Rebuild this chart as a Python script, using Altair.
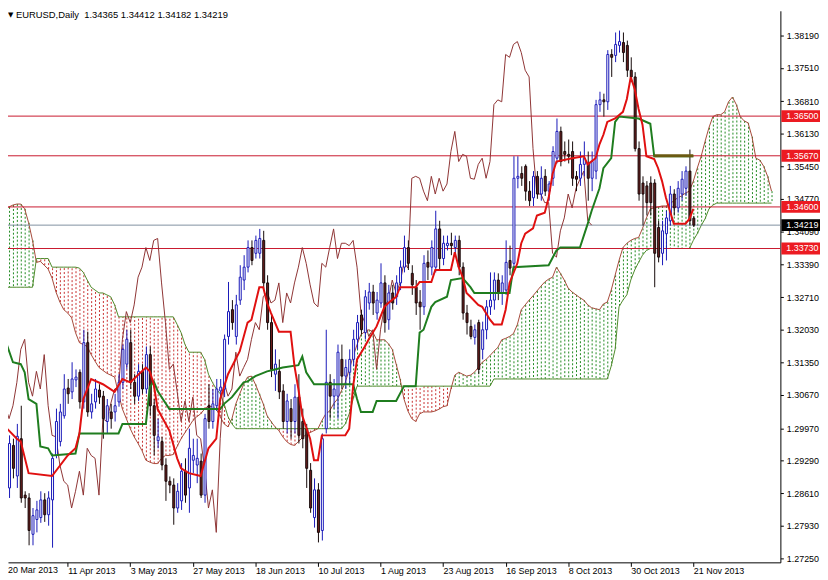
import altair as alt
import pandas as pd

FONT = "Liberation Sans"

# ---------------- values ----------------
title_text = "EURUSD,Daily\u00a0 1.34365 1.34412 1.34182 1.34219"
date_labels = ["20 Mar 2013", "11 Apr 2013", "3 May 2013", "27 May 2013", "18 Jun 2013",
               "10 Jul 2013", "1 Aug 2013", "23 Aug 2013", "16 Sep 2013", "8 Oct 2013",
               "30 Oct 2013", "21 Nov 2013"]
label_bars = [0, 16, 32, 48, 64, 80, 96, 112, 128, 144, 160, 176]
y_ticks = [1.2725, 1.2793, 1.2861, 1.2929, 1.2997, 1.3067, 1.3135, 1.3203, 1.3271,
           1.3339, 1.3409, 1.3477, 1.3545, 1.3613, 1.3681, 1.3751, 1.3819]
levels = [1.3650, 1.3567, 1.3460, 1.3373]
level_text = ["1.36500", "1.35670", "1.34600", "1.33730"]
last_price = 1.34219
last_text = "1.34219"
box_level = 1.3567
box_from, box_to = 166, 176

opens = [
    1.2975, 1.2872, 1.2961, 1.2897, 1.2975, 1.2857, 1.2851, 1.2775, 1.2806, 1.2810,
    1.2847, 1.2816, 1.2847, 1.2940, 1.2969, 1.3023, 1.3081, 1.3073, 1.3098, 1.3114,
    1.3052, 1.3176, 1.3031, 1.3052, 1.3077, 1.3064, 1.3011, 1.3031, 1.3031, 1.3052,
    1.3093, 1.3131, 1.3176, 1.3093, 1.3064, 1.3116, 1.3079, 1.3151, 1.3044, 1.2971,
    1.2969, 1.2920, 1.2886, 1.2878, 1.2830, 1.2845, 1.2907, 1.2872, 1.2930, 1.2920,
    1.2928, 1.2857, 1.3044, 1.3011, 1.3044, 1.3075, 1.3079, 1.3189, 1.3245, 1.3189,
    1.3265, 1.3307, 1.3334, 1.3375, 1.3363, 1.3363, 1.3390, 1.3301, 1.3218, 1.3110,
    1.3116, 1.3075, 1.3011, 1.3038, 1.3011, 1.3062, 1.3011, 1.2996, 1.2909, 1.2810,
    1.2868, 1.2783, 1.2996, 1.3093, 1.3064, 1.3064, 1.3141, 1.3106, 1.3114, 1.3141,
    1.3183, 1.3234, 1.3197, 1.3259, 1.3282, 1.3238, 1.3259, 1.3301, 1.3224, 1.3280,
    1.3272, 1.3301, 1.3334, 1.3375, 1.3321, 1.3292, 1.3261, 1.3251, 1.3344, 1.3334,
    1.3334, 1.3414, 1.3352, 1.3379, 1.3384, 1.3375, 1.3390, 1.3334, 1.3238, 1.3210,
    1.3187, 1.3218, 1.3162, 1.3203, 1.3251, 1.3265, 1.3307, 1.3280, 1.3286, 1.3348,
    1.3342, 1.3520, 1.3530, 1.3545, 1.3493, 1.3479, 1.3524, 1.3487, 1.3524, 1.3493,
    1.3520, 1.3562, 1.3618, 1.3576, 1.3570, 1.3576, 1.3524, 1.3520, 1.3549, 1.3551,
    1.3520, 1.3535, 1.3674, 1.3684, 1.3680, 1.3779, 1.3777, 1.3798, 1.3804, 1.3798,
    1.3746, 1.3732, 1.3582, 1.3510, 1.3504, 1.3510, 1.3510, 1.3417, 1.3363, 1.3404,
    1.3431, 1.3487, 1.3458, 1.3487, 1.3499, 1.3535, 1.34365]
highs = [
    1.2986, 1.2982, 1.2975, 1.3006, 1.3044, 1.2865, 1.2861, 1.2830, 1.2845, 1.2865,
    1.2861, 1.2865, 1.2944, 1.3038, 1.3048, 1.3110, 1.3100, 1.3135, 1.3120, 1.3120,
    1.3203, 1.3199, 1.3069, 1.3100, 1.3089, 1.3075, 1.3058, 1.3048, 1.3069, 1.3110,
    1.3172, 1.3203, 1.3203, 1.3110, 1.3131, 1.3131, 1.3168, 1.3168, 1.3058, 1.3017,
    1.2979, 1.2934, 1.2896, 1.2892, 1.2882, 1.2924, 1.2934, 1.2996, 1.2975, 1.2975,
    1.2944, 1.3027, 1.3089, 1.3079, 1.3100, 1.3100, 1.3193, 1.3303, 1.3265, 1.3276,
    1.3338, 1.3359, 1.3390, 1.3390, 1.3400, 1.3414, 1.3410, 1.3317, 1.3234, 1.3162,
    1.3141, 1.3089, 1.3069, 1.3058, 1.3089, 1.3110, 1.3038, 1.3006, 1.2924, 1.2892,
    1.2882, 1.2986, 1.3203, 1.3110, 1.3100, 1.3172, 1.3172, 1.3141, 1.3162, 1.3203,
    1.3234, 1.3245, 1.3286, 1.3301, 1.3297, 1.3282, 1.3342, 1.3317, 1.3297, 1.3297,
    1.3317, 1.3348, 1.3400, 1.3390, 1.3338, 1.3307, 1.3286, 1.3359, 1.3369, 1.3390,
    1.3452, 1.3431, 1.3400, 1.3400, 1.3406, 1.3400, 1.3400, 1.3344, 1.3255, 1.3224,
    1.3214, 1.3224, 1.3220, 1.3265, 1.3323, 1.3323, 1.3321, 1.3317, 1.3390, 1.3379,
    1.3566, 1.3566, 1.3545, 1.3549, 1.3514, 1.3535, 1.3535, 1.3545, 1.3539, 1.3514,
    1.3587, 1.3645, 1.3628, 1.3597, 1.3601, 1.3597, 1.3535, 1.3576, 1.3597, 1.3576,
    1.3576, 1.3684, 1.3701, 1.3697, 1.3788, 1.3790, 1.3825, 1.3829, 1.3825, 1.3808,
    1.3773, 1.3742, 1.3597, 1.3524, 1.3514, 1.3524, 1.3518, 1.3431, 1.3431, 1.3452,
    1.3504, 1.3497, 1.3514, 1.3535, 1.3545, 1.3580, 1.34412]
lows = [
    1.2934, 1.2851, 1.2892, 1.2872, 1.2841, 1.2830, 1.2752, 1.2752, 1.2779, 1.2799,
    1.2801, 1.2793, 1.2747, 1.2934, 1.2959, 1.3017, 1.3048, 1.3058, 1.3083, 1.3038,
    1.3038, 1.3021, 1.3017, 1.3038, 1.3048, 1.2975, 1.2986, 1.2996, 1.3011, 1.3042,
    1.3079, 1.3120, 1.3079, 1.3048, 1.3054, 1.3069, 1.3069, 1.3023, 1.2940, 1.2955,
    1.2909, 1.2845, 1.2861, 1.2795, 1.2820, 1.2826, 1.2841, 1.2820, 1.2903, 1.2882,
    1.2851, 1.2841, 1.2996, 1.2996, 1.3033, 1.3058, 1.3062, 1.3172, 1.3203, 1.3172,
    1.3255, 1.3286, 1.3323, 1.3338, 1.3352, 1.3352, 1.3286, 1.3203, 1.3104, 1.3075,
    1.3058, 1.2996, 1.2986, 1.2975, 1.2986, 1.2965, 1.2955, 1.2872, 1.2820, 1.2789,
    1.2758, 1.2762, 1.2986, 1.3017, 1.3038, 1.3017, 1.3079, 1.3079, 1.3089, 1.3127,
    1.3162, 1.3193, 1.3183, 1.3245, 1.3234, 1.3224, 1.3249, 1.3197, 1.3203, 1.3245,
    1.3255, 1.3286, 1.3323, 1.3328, 1.3276, 1.3234, 1.3203, 1.3234, 1.3307, 1.3317,
    1.3323, 1.3328, 1.3338, 1.3369, 1.3359, 1.3359, 1.3317, 1.3224, 1.3193, 1.3183,
    1.3172, 1.3110, 1.3141, 1.3183, 1.3234, 1.3245, 1.3265, 1.3255, 1.3276, 1.3317,
    1.3332, 1.3499, 1.3504, 1.3473, 1.3462, 1.3462, 1.3477, 1.3473, 1.3483, 1.3473,
    1.3504, 1.3551, 1.3545, 1.3555, 1.3551, 1.3504, 1.3493, 1.3504, 1.3524, 1.3473,
    1.3493, 1.3518, 1.3659, 1.3649, 1.3663, 1.3732, 1.3763, 1.3783, 1.3763, 1.3732,
    1.3721, 1.3576, 1.3473, 1.3421, 1.3442, 1.3442, 1.3292, 1.3344, 1.3338, 1.3348,
    1.3421, 1.3442, 1.3448, 1.3473, 1.3483, 1.3421, 1.34182]
closes = [
    1.2944, 1.2965, 1.2913, 1.2980, 1.2851, 1.2851, 1.2783, 1.2814, 1.2826, 1.2847,
    1.2816, 1.2851, 1.2934, 1.3011, 1.3031, 1.3079, 1.3069, 1.3100, 1.3104, 1.3052,
    1.3176, 1.3031, 1.3048, 1.3079, 1.3062, 1.3017, 1.3044, 1.3017, 1.3044, 1.3093,
    1.3162, 1.3183, 1.3093, 1.3064, 1.3116, 1.3079, 1.3151, 1.3044, 1.2982, 1.2979,
    1.2920, 1.2886, 1.2878, 1.2830, 1.2865, 1.2907, 1.2857, 1.2955, 1.2940, 1.2934,
    1.2857, 1.3017, 1.3011, 1.3048, 1.3079, 1.3083, 1.3183, 1.3241, 1.3218, 1.3255,
    1.3313, 1.3334, 1.3375, 1.3348, 1.3390, 1.3394, 1.3301, 1.3218, 1.3120, 1.3131,
    1.3073, 1.3011, 1.3054, 1.3011, 1.3062, 1.2982, 1.2975, 1.2913, 1.2830, 1.2868,
    1.2779, 1.2975, 1.3093, 1.3064, 1.3079, 1.3156, 1.3106, 1.3124, 1.3141, 1.3183,
    1.3218, 1.3203, 1.3272, 1.3282, 1.3259, 1.3265, 1.3301, 1.3218, 1.3280, 1.3259,
    1.3301, 1.3334, 1.3375, 1.3342, 1.3297, 1.3259, 1.3251, 1.3342, 1.3334, 1.3375,
    1.3414, 1.3352, 1.3384, 1.3384, 1.3379, 1.3390, 1.3334, 1.3238, 1.3218, 1.3189,
    1.3203, 1.3120, 1.3203, 1.3251, 1.3265, 1.3307, 1.3280, 1.3301, 1.3344, 1.3332,
    1.3520, 1.3524, 1.3520, 1.3493, 1.3473, 1.3524, 1.3487, 1.3520, 1.3493, 1.3508,
    1.3576, 1.3618, 1.3555, 1.3570, 1.3566, 1.3520, 1.3518, 1.3549, 1.3562, 1.3520,
    1.3555, 1.3674, 1.3684, 1.3680, 1.3779, 1.3773, 1.3800, 1.3806, 1.3783, 1.3746,
    1.3732, 1.3582, 1.3487, 1.3487, 1.3469, 1.3469, 1.3363, 1.3355, 1.3410, 1.3437,
    1.3487, 1.3458, 1.3499, 1.3518, 1.3535, 1.3431, 1.34219]

tenkan_bar = [0, 3, 4, 6, 12, 16, 18, 19, 20, 22, 25, 28, 30, 32, 36, 37, 38, 39, 42, 44,
              45, 47, 50, 52, 54, 55, 57, 60, 62, 63, 65, 66, 67, 68, 70, 73, 74, 75, 76, 78,
              79, 80, 81, 87, 88, 89, 90, 92, 93, 95, 97, 98, 100, 101, 105, 106, 109, 110, 114, 115,
              116, 117, 118, 119, 121, 122, 124, 125, 127, 128, 129, 131, 132, 133, 135, 136, 138, 139, 140, 141,
              145, 148, 149, 151, 152, 153, 154, 156, 158, 159, 160, 161, 162, 163, 164, 166, 167, 168, 169, 170,
              171, 174, 175, 176]
tenkan = [1.3000, 1.2975, 1.2969, 1.2903, 1.2897, 1.2940, 1.2955, 1.2986, 1.3058, 1.3100,
          1.3089, 1.3073, 1.3100, 1.3093, 1.3124, 1.3116, 1.3089, 1.3037, 1.2992, 1.2934,
          1.2913, 1.2903, 1.2897, 1.2955, 1.2975, 1.3058, 1.3110, 1.3158, 1.3218, 1.3224,
          1.3292, 1.3292, 1.3259, 1.3238, 1.3199, 1.3199, 1.3127, 1.3079, 1.3023, 1.2975,
          1.2930, 1.2930, 1.2982, 1.2982, 1.2996, 1.3085, 1.3141, 1.3168, 1.3183, 1.3210,
          1.3251, 1.3259, 1.3272, 1.3292, 1.3292, 1.3303, 1.3303, 1.3328, 1.3328, 1.3365,
          1.3334, 1.3313, 1.3280, 1.3272, 1.3255, 1.3251, 1.3224, 1.3214, 1.3214, 1.3245,
          1.3301, 1.3342, 1.3384, 1.3404, 1.3415, 1.3442, 1.3448, 1.3479, 1.3529, 1.3555,
          1.3562, 1.3566, 1.3549, 1.3562, 1.3591, 1.3611, 1.3638, 1.3645, 1.3659, 1.3686,
          1.3732, 1.3707, 1.3665, 1.3632, 1.3566, 1.3560, 1.3541, 1.3514, 1.3479, 1.3452,
          1.3425, 1.3425, 1.3435, 1.3456]

kijun_bar = [0, 2, 4, 5, 6, 8, 9, 11, 12, 18, 19, 29, 30, 36, 37, 38, 39, 42, 55, 56,
             58, 61, 62, 64, 67, 69, 71, 75, 76, 77, 79, 89, 90, 91, 94, 95, 100, 102, 105, 106,
             107, 109, 110, 113, 114, 117, 119, 120, 129, 130, 139, 141, 142, 147, 149, 150, 152, 153, 155, 156,
             157, 162, 165, 166, 176]
kijun = [1.3182, 1.3135, 1.3131, 1.3114, 1.3058, 1.3048, 1.2959, 1.2955, 1.2940, 1.2944,
         1.2986, 1.2986, 1.3006, 1.3006, 1.3083, 1.3095, 1.3075, 1.3037, 1.3037, 1.3048,
         1.3062, 1.3093, 1.3095, 1.3106, 1.3116, 1.3120, 1.3124, 1.3129, 1.3147, 1.3114,
         1.3089, 1.3089, 1.3058, 1.3031, 1.3031, 1.3054, 1.3054, 1.3085, 1.3085, 1.3197,
         1.3203, 1.3251, 1.3261, 1.3272, 1.3307, 1.3311, 1.3292, 1.3280, 1.3280, 1.3334,
         1.3338, 1.3369, 1.3375, 1.3375, 1.3425, 1.3452, 1.3499, 1.3541, 1.3562, 1.3638,
         1.3649, 1.3645, 1.3634, 1.3566, 1.3566]

span_a = [
    1.3456, 1.3460, 1.3464, 1.3466, 1.3466, 1.3456, 1.3427, 1.3390, 1.3344, 1.3346,
    1.3338, 1.3330, 1.3311, 1.3282, 1.3261, 1.3245, 1.3238, 1.3228, 1.3197, 1.3176,
    1.3172, 1.3168, 1.3151, 1.3137, 1.3124, 1.3118, 1.3112, 1.3108, 1.3104, 1.3069,
    1.3037, 1.3017, 1.2996, 1.2979, 1.2965, 1.2950, 1.2930, 1.2926, 1.2923, 1.2923,
    1.2934, 1.2940, 1.2940, 1.2942, 1.2959, 1.2975, 1.2988, 1.3000, 1.3013, 1.3021,
    1.3027, 1.3037, 1.3044, 1.3042, 1.3037, 1.3021, 1.3006, 1.3000, 1.3017, 1.3048,
    1.3069, 1.3089, 1.3104, 1.3106, 1.3089, 1.3069, 1.3048, 1.3023, 1.3011, 1.3000,
    1.2992, 1.2979, 1.2969, 1.2963, 1.2961, 1.2969, 1.2977, 1.2984, 1.2988, 1.2992,
    1.2996, 1.3013, 1.3027, 1.3033, 1.3048, 1.3058, 1.3075, 1.3093, 1.3120, 1.3147,
    1.3172, 1.3193, 1.3199, 1.3203, 1.3199, 1.3182, 1.3182, 1.3182, 1.3174, 1.3162,
    1.3131, 1.3100, 1.3058, 1.3033, 1.3017, 1.3011, 1.3027, 1.3031, 1.3031, 1.3031,
    1.3033, 1.3037, 1.3042, 1.3044, 1.3079, 1.3108, 1.3114, 1.3110, 1.3106, 1.3108,
    1.3114, 1.3124, 1.3135, 1.3141, 1.3149, 1.3158, 1.3166, 1.3182, 1.3185, 1.3189,
    1.3195, 1.3214, 1.3245, 1.3255, 1.3265, 1.3274, 1.3284, 1.3294, 1.3303, 1.3309,
    1.3313, 1.3334, 1.3321, 1.3307, 1.3290, 1.3282, 1.3276, 1.3270, 1.3265, 1.3255,
    1.3249, 1.3247, 1.3245, 1.3257, 1.3261, 1.3286, 1.3317, 1.3348, 1.3375, 1.3384,
    1.3390, 1.3394, 1.3396, 1.3415, 1.3437, 1.3456, 1.3458, 1.3460, 1.3462, 1.3462,
    1.3466, 1.3473, 1.3479, 1.3483, 1.3489, 1.3493, 1.3514, 1.3541, 1.3566, 1.3597,
    1.3626, 1.3649, 1.3653, 1.3653, 1.3659, 1.3680, 1.3690, 1.3674, 1.3649, 1.3640,
    1.3636, 1.3607, 1.3562, 1.3558, 1.3545, 1.3524, 1.3493]
span_b = [
    1.3292, 1.3292, 1.3292, 1.3292, 1.3292, 1.3292, 1.3292, 1.3292, 1.3352, 1.3352,
    1.3352, 1.3352, 1.3334, 1.3334, 1.3334, 1.3334, 1.3334, 1.3334, 1.3334, 1.3332,
    1.3323, 1.3307, 1.3292, 1.3286, 1.3280, 1.3280, 1.3276, 1.3272, 1.3255, 1.3230,
    1.3230, 1.3230, 1.3230, 1.3230, 1.3230, 1.3230, 1.3230, 1.3230, 1.3230, 1.3230,
    1.3230, 1.3230, 1.3230, 1.3230, 1.3214, 1.3197, 1.3172, 1.3156, 1.3156, 1.3156,
    1.3156, 1.3141, 1.3110, 1.3093, 1.3079, 1.3069, 1.3048, 1.3021, 1.3006, 1.2996,
    1.2996, 1.2996, 1.2996, 1.2996, 1.2996, 1.2996, 1.2996, 1.2996, 1.2996, 1.2996,
    1.2996, 1.2996, 1.2996, 1.2996, 1.2996, 1.2996, 1.2996, 1.2996, 1.2996, 1.2996,
    1.2996, 1.2996, 1.2996, 1.2996, 1.2996, 1.2996, 1.2996, 1.3006, 1.3027, 1.3058,
    1.3085, 1.3085, 1.3085, 1.3085, 1.3085, 1.3085, 1.3085, 1.3085, 1.3085, 1.3085,
    1.3085, 1.3085, 1.3085, 1.3085, 1.3085, 1.3085, 1.3085, 1.3085, 1.3085, 1.3085,
    1.3085, 1.3085, 1.3085, 1.3085, 1.3085, 1.3085, 1.3085, 1.3085, 1.3085, 1.3085,
    1.3085, 1.3085, 1.3085, 1.3085, 1.3085, 1.3100, 1.3100, 1.3100, 1.3100, 1.3100,
    1.3100, 1.3100, 1.3100, 1.3100, 1.3100, 1.3100, 1.3100, 1.3100, 1.3100, 1.3100,
    1.3100, 1.3100, 1.3100, 1.3100, 1.3100, 1.3100, 1.3100, 1.3100, 1.3100, 1.3100,
    1.3100, 1.3100, 1.3100, 1.3100, 1.3100, 1.3127, 1.3162, 1.3251, 1.3265, 1.3276,
    1.3307, 1.3328, 1.3344, 1.3359, 1.3369, 1.3373, 1.3373, 1.3373, 1.3373, 1.3373,
    1.3373, 1.3373, 1.3373, 1.3373, 1.3373, 1.3373, 1.3390, 1.3404, 1.3421, 1.3435,
    1.3456, 1.3464, 1.3468, 1.3468, 1.3468, 1.3468, 1.3468, 1.3468, 1.3468, 1.3468,
    1.3468, 1.3468, 1.3468, 1.3468, 1.3468, 1.3468, 1.3468]

# ---------------- tables ----------------
candles = pd.DataFrame({"bar": list(range(len(closes))), "open": opens, "high": highs,
                        "low": lows, "close": closes})
cloud = pd.DataFrame({"bar": list(range(len(span_a))), "span_a": span_a, "span_b": span_b})
tk = pd.DataFrame({"bar": tenkan_bar, "v": tenkan})
kj = pd.DataFrame({"bar": kijun_bar, "v": kijun})
lv = pd.DataFrame({"level": levels, "txt": level_text})
bid = pd.DataFrame({"level": [last_price], "txt": [last_text]})
seg = pd.DataFrame({"b0": [box_from], "b1": [box_to], "level": [box_level]})
ttl = pd.DataFrame({"t": [title_text]})
first_lbl = pd.DataFrame({"t": [date_labels[0]]})

xs = alt.Scale(domain=[2, 197], nice=False, zero=False)
ys = alt.Scale(domain=[1.27163, 1.38704], nice=False, zero=False)

label_expr = "[" + ",".join("'" + d + "'" for d in date_labels) + "][round(datum.value / 16)]"
x_axis = alt.Axis(values=label_bars[1:], labelExpr=label_expr, orient="bottom", title=None,
                  grid=False, labelAlign="left", labelBaseline="top", labelPadding=0, tickSize=4,
                  tickColor="black", domainColor="black", labelColor="black", labelFont=FONT,
                  labelFontSize=9, labelFlush=False, labelOverlap=False)
y_axis = alt.Axis(values=y_ticks, format=".5f", orient="right", title=None, grid=False,
                  tickSize=3, labelPadding=3, tickColor="black", domainColor="black",
                  labelColor="black", labelFont=FONT, labelFontSize=9, labelFlush=False,
                  labelOverlap=False, labelBaseline="middle")


def X(field):
    return alt.X(field, type="quantitative", scale=xs, axis=x_axis, title=None)


def Y(field):
    return alt.Y(field, type="quantitative", scale=ys, axis=y_axis, title=None)


GREEN_DOT = "#1f8a1f"
RED_DOT = "#c83030"
UP = "#1818b8"
DOWN_FILL = "#6e1f1f"
DOWN_EDGE = "#140808"
LEVEL = "#c8182e"

cloud_dots = alt.Chart(cloud).mark_rule(clip=True, strokeWidth=1, strokeDash=[2, 2], xOffset=0.5).encode(
    x=X("bar"), y=Y("span_a"), y2="span_b:Q",
    color=alt.condition("datum.span_a >= datum.span_b", alt.value(GREEN_DOT), alt.value(RED_DOT)),
)
line_a = alt.Chart(cloud).mark_line(clip=True, strokeWidth=1, color="#a5493a").encode(
    x=X("bar"), y=Y("span_a"))
line_b = alt.Chart(cloud).mark_line(clip=True, strokeWidth=1, color="#4f8a2a").encode(
    x=X("bar"), y=Y("span_b"))

level_lines = alt.Chart(lv).mark_rule(strokeWidth=1, color=LEVEL).encode(y=Y("level"))
bid_line = alt.Chart(bid).mark_rule(strokeWidth=1, color="#8090a0").encode(y=Y("level"))

chikou = alt.Chart(candles).transform_calculate(lag="datum.bar - 26").mark_line(
    clip=True, strokeWidth=1, color="#8e3434").encode(x=X("lag"), y=Y("close"))

is_up = "datum.close >= datum.open"
wicks = alt.Chart(candles).mark_rule(clip=True, strokeWidth=1, xOffset=0.5).encode(
    x=X("bar"), y=Y("low"), y2="high:Q",
    color=alt.condition(is_up, alt.value(UP), alt.value(DOWN_EDGE)))
bodies = alt.Chart(candles).mark_bar(clip=True, size=2, strokeWidth=1, xOffset=0.5).encode(
    x=X("bar"), y=Y("open"), y2="close:Q",
    fill=alt.condition(is_up, alt.value("white"), alt.value(DOWN_FILL)),
    stroke=alt.condition(is_up, alt.value(UP), alt.value(DOWN_EDGE)))

kijun_line = alt.Chart(kj).mark_line(clip=True, strokeWidth=2, color="#1f7d1f").encode(
    x=X("bar"), y=Y("v"))
tenkan_line = alt.Chart(tk).mark_line(clip=True, strokeWidth=2, color="#e01010").encode(
    x=X("bar"), y=Y("v"))

olive = alt.Chart(seg).mark_rule(clip=True, strokeWidth=3, color="#6b5a12").encode(
    x=X("b0"), x2="b1:Q", y=Y("level"))

boxes = alt.Chart(lv).mark_rule(strokeWidth=12, color="#ec1b22", strokeCap="butt").encode(
    x=alt.value(781), x2=alt.value(820), y=Y("level"))
box_txt = alt.Chart(lv).mark_text(align="left", baseline="middle", color="white", font=FONT,
                                  fontSize=9).encode(x=alt.value(786), y=Y("level"), text="txt:N")
bid_box = alt.Chart(bid).mark_rule(strokeWidth=12, color="black", strokeCap="butt").encode(
    x=alt.value(781), x2=alt.value(820), y=Y("level"))
bid_txt = alt.Chart(bid).mark_text(align="left", baseline="middle", color="white", font=FONT,
                                   fontSize=9).encode(x=alt.value(786), y=Y("level"), text="txt:N")

tri = alt.Chart(ttl).mark_text(align="left", baseline="middle", color="black", font="DejaVu Sans",
                               fontSize=7, text="\u25bc").encode(x=alt.value(0), y=alt.value(4))
title = alt.Chart(ttl).mark_text(align="left", baseline="middle", color="black", font=FONT,
                                 fontSize=9.5).encode(x=alt.value(8), y=alt.value(4), text="t:N")
first_date = alt.Chart(first_lbl).mark_text(align="left", baseline="top", color="black", font=FONT,
                                            fontSize=9).encode(x=alt.value(0), y=alt.value(561),
                                                               text="t:N")

chart = alt.layer(
    cloud_dots, line_a, line_b, level_lines, bid_line, chikou, wicks, bodies,
    kijun_line, tenkan_line, olive, boxes, box_txt, bid_box, bid_txt, tri, title, first_date,
).properties(
    width=780, height=557,
    padding={"left": 0, "top": 0, "right": 40, "bottom": 15},
    autosize=alt.AutoSizeParams(type="none"),
    background="white",
).configure_view(stroke=None)

chart.save("out.html", embed_options={"renderer": "svg", "actions": False})
